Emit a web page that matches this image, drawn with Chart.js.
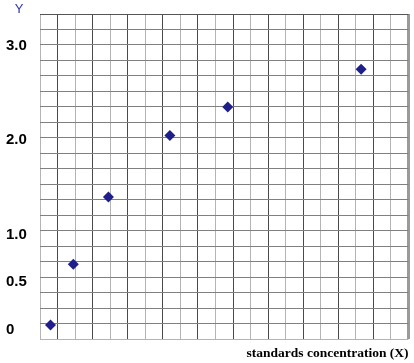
<!DOCTYPE html>
<html>
<head>
<meta charset="utf-8">
<script src="https://cdn.jsdelivr.net/npm/chart.js@4/dist/chart.umd.min.js"></script>
<style>
  html, body { margin: 0; padding: 0; background: #fff; }
  #wrap { width: 414px; height: 363px; }
</style>
</head>
<body>
<div id="wrap"><canvas id="curveChart" width="414" height="363"></canvas></div>
<script>
// standards: concentration in graph-paper squares, Y
const concentration = [0.6, 1.9, 3.9, 7.4, 10.7, 18.3];
const yValues = [0.05, 0.69, 1.40, 2.05, 2.35, 2.75];

const yTickValues = [0, 0.5, 1.0, 2.0, 3.0];
const yTickLabels = ["0", "0.5", "1.0", "2.0", "3.0"];

const gridSquares = 21;
const xTitle = "standards concentration (X)";
const yTitle = "Y";

// small "Y" drawn over the label column
const yLetter = {
    id: "yLetter",
    afterDraw(chart) {
        const c = chart.ctx;
        c.save();
        c.font = "13px 'Liberation Sans', Arial, sans-serif";
        c.fillStyle = "#3434a8";
        c.textAlign = "center";
        c.textBaseline = "middle";
        c.fillText(yTitle, 19, 9);
        c.restore();
    }
};

const points = concentration.map((x, i) => ({ x: x, y: yValues[i] }));

function squareTicks(scale) {
    const t = [];
    for (let i = 0; i <= gridSquares; i++) t.push({ value: i });
    scale.ticks = t;
}

new Chart(document.getElementById("curveChart"), {
    type: "scatter",
    data: {
        datasets: [{
            data: points,
            xAxisID: "x",
            yAxisID: "yv",
            pointStyle: "rectRot",
            pointRadius: 5.5,
            pointHoverRadius: 5.5,
            backgroundColor: "#1f1f8c",
            borderColor: "#1f1f8c",
            borderWidth: 0,
            showLine: false
        }]
    },
    options: {
        responsive: false,
        animation: false,
        layout: { padding: { left: 6, top: 14, right: 4, bottom: 0 } },
        plugins: {
            legend: { display: false },
            tooltip: { enabled: false }
        },
        scales: {
            x: {
                type: "linear",
                position: "bottom",
                min: 0,
                max: gridSquares,
                afterBuildTicks: squareTicks,
                afterFit: s => { s.height = 24; },
                ticks: { display: false, autoSkip: false },
                border: { display: false },
                grid: {
                    drawTicks: false,
                    color: ctx => {
                        const v = ctx.tick.value;
                        if (v === gridSquares) return "#9a9a9a";
                        return v % 2 === 1 ? "#4a4a4a" : "#b4b4b4";
                    },
                    lineWidth: ctx => ctx.tick.value === gridSquares ? 3 : 1
                },
                title: {
                    display: true,
                    text: xTitle,
                    align: "end",
                    color: "#000",
                    font: { family: "'Liberation Serif', 'Times New Roman', serif", size: 13.5, weight: "bold" },
                    padding: { top: 0, bottom: 1 }
                }
            },
            y: {
                type: "linear",
                position: "left",
                min: 0,
                max: gridSquares,
                afterBuildTicks: squareTicks,
                afterFit: s => { s.width = 0; },
                ticks: { display: false, autoSkip: false },
                border: { display: false },
                grid: {
                    drawTicks: false,
                    color: ctx => ctx.tick.value === gridSquares ? "#555555" : (ctx.tick.value === 0 ? "#b4b4b4" : "#808080")
                }
            },
            yv: {
                type: "linear",
                position: "left",
                min: -0.098,
                max: 3.332,
                afterBuildTicks: s => { s.ticks = yTickValues.map(v => ({ value: v })); },
                afterFit: s => { s.width = 34; },
                border: { display: false },
                grid: { display: false, drawTicks: false },
                ticks: {
                    autoSkip: false,
                    crossAlign: "far",
                    color: "#000",
                    font: { family: "'Liberation Sans', Arial, sans-serif", size: 15, weight: "bold" },
                    callback: (v) => {
                        const i = yTickValues.indexOf(v);
                        return i >= 0 ? yTickLabels[i] : "";
                    }
                }
            }
        }
    },
    plugins: [yLetter]
});
</script>
</body>
</html>
